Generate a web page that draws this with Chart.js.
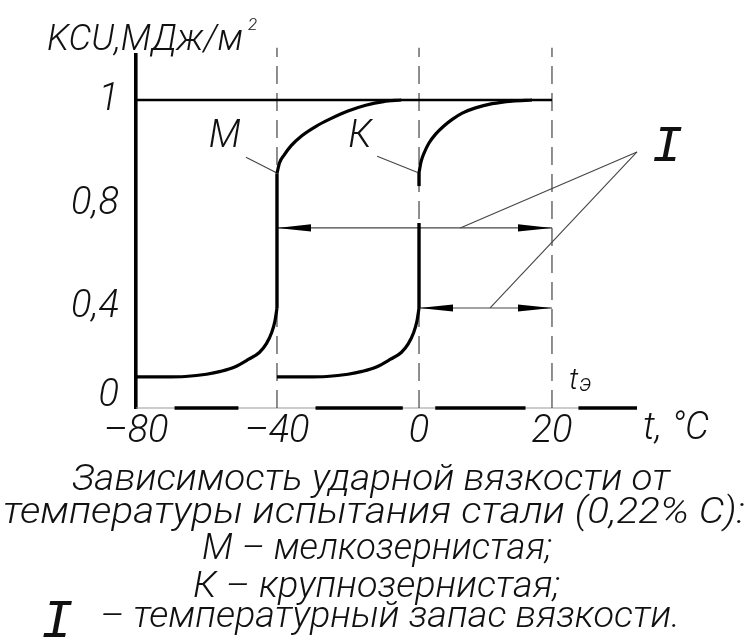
<!DOCTYPE html>
<html><head><meta charset="utf-8">
<script src="https://cdn.jsdelivr.net/npm/chart.js@4.4.1/dist/chart.umd.min.js"></script>
<style>html,body{margin:0;padding:0;background:#fff;}canvas{display:block;}</style>
</head><body>
<canvas id="c" width="750" height="640"></canvas>
<script>
// ---------- data ----------
const xTicks = [-80, -40, 0, 20];
const yTicks = [0, 0.4, 0.8, 1];

// M (fine grain) – lower shelf
const mLowT   = [-80, -72, -66, -60, -56, -52, -48, -45, -43, -41.5, -40.6, -40];
const mLowKCU = [0.09, 0.09, 0.092, 0.102, 0.115, 0.135, 0.17, 0.2, 0.24, 0.29, 0.34, 0.40];
// M jump
const mJumpT   = [-40, -40];
const mJumpKCU = [0.40, 0.86];
// M upper shelf
const mHighT   = [-40, -39.3, -38, -36, -33, -29, -25, -20, -15, -10, -5];
const mHighKCU = [0.86, 0.88, 0.895, 0.913, 0.932, 0.95, 0.964, 0.979, 0.99, 0.997, 1.0];

// K (coarse grain) – lower shelf
const kLowT   = [-40, -32, -26, -20, -16, -12, -8, -5, -3, -1.5, -0.6, 0];
const kLowKCU = [0.09, 0.09, 0.092, 0.102, 0.115, 0.135, 0.17, 0.2, 0.24, 0.29, 0.34, 0.40];
// K jump (broken)
const kJumpLowT   = [0, 0];
const kJumpLowKCU = [0.40, 0.73];
const kJumpHighT   = [0, 0];
const kJumpHighKCU = [0.836, 0.861];
// K upper shelf
const kHighT   = [0, 0.3, 0.8, 1.5, 2.5, 3.7, 5, 6.5, 8.5, 11, 14, 17];
const kHighKCU = [0.861, 0.882, 0.9, 0.918, 0.935, 0.95, 0.963, 0.975, 0.985, 0.993, 0.998, 1.0];

// level KCU = 1
const topT   = [-80, 20];
const topKCU = [1, 1];

// reference temperatures (dashed)
const dashTemps = [-40, 0, 20];
const dashKCU   = [-0.05, 1.10];

// dimension arrows (temperature reserve)
const arrow1T = [-40, 20]; const arrow1KCU = [0.711, 0.711];
const arrow2T = [0, 20];   const arrow2KCU = [0.40, 0.40];

// leader lines
const leaderI1T = [33, 6.2];  const leaderI1KCU = [0.901, 0.711];
const leaderI2T = [33, 10.7]; const leaderI2KCU = [0.901, 0.40];
const leaderMT = [-48.8, -40]; const leaderMKCU = [0.891, 0.861];
const leaderKT = [-11.8, 0];   const leaderKKCU = [0.893, 0.861];

// text annotations (anchored in data units)
const noteM = {text: 'М', t: -54.8, v: 0.928};
const noteK = {text: 'К', t: -16.6, v: 0.928};
const noteI = {text: 'I', t: 37.6, v: 0.91};
const noteTe = {t: 22.6, v: 0.035};

const yTitle = 'KCU,МДж/м';
const xTitle = 't, °C';
const caption = [
  'Зависимость ударной вязкости от',
  'температуры испытания стали (0,22% C):',
  'М – мелкозернистая;',
  'К – крупнозернистая;',
  '– температурный запас вязкости.'
];

// ---------- piecewise scale (drawing is not to scale) ----------
const BREAKS = {
  x: {values: [-80, -40, 0, 20, 33], fracs: [0, 0.2814, 0.5649, 0.8303, 1]},
  y: {values: [-0.05, 0, 0.4, 0.8, 1, 1.086], fracs: [0, 0.0312, 0.2833, 0.5751, 0.8725, 1]}
};
class PiecewiseScale extends Chart.LinearScale {
  static id = 'piecewise';
  static defaults = Chart.LinearScale.defaults;
  _frac(v) {
    const b = BREAKS[this.id].values, f = BREAKS[this.id].fracs;
    let i = 1;
    while (i < b.length - 1 && v > b[i]) i++;
    return f[i - 1] + (v - b[i - 1]) * (f[i] - f[i - 1]) / (b[i] - b[i - 1]);
  }
  getPixelForValue(v) {
    if (v === null || v === undefined || isNaN(v)) return NaN;
    return this.getPixelForDecimal(this._frac(v));
  }
  getValueForPixel(p) {
    const d = this.getDecimalForPixel(p);
    const b = BREAKS[this.id].values, f = BREAKS[this.id].fracs;
    let i = 1;
    while (i < f.length - 1 && d > f[i]) i++;
    return b[i - 1] + (d - f[i - 1]) * (b[i] - b[i - 1]) / (f[i] - f[i - 1]);
  }
}
Chart.register(PiecewiseScale);

// ---------- helpers ----------
const FAMILY = 'Roboto, "Open Sans", "DejaVu Sans", sans-serif';
const MONO = '"Liberation Mono", "DejaVu Sans Mono", monospace';
const pts = (ts, vs) => ts.map((t, i) => ({x: t, y: vs[i]}));
const fmtX = v => (v < 0 ? '–' + Math.abs(v) : String(v));
const fmtY = v => String(v).replace('.', ',');

const curve = (ts, vs) => ({data: pts(ts, vs), borderColor: '#000', borderWidth: 3.2,
  pointRadius: 0, cubicInterpolationMode: 'monotone', fill: false, clip: false});
const straight = (ts, vs, w) => ({data: pts(ts, vs), borderColor: '#000', borderWidth: w,
  pointRadius: 0, tension: 0, fill: false, clip: false});
const thin = (ts, vs, extra) => Object.assign({data: pts(ts, vs), borderColor: '#444', borderWidth: 1.1,
  pointRadius: 0, tension: 0, fill: false, clip: false}, extra || {});

const datasets = [
  curve(mLowT, mLowKCU),
  straight(mJumpT, mJumpKCU, 3.4),
  curve(mHighT, mHighKCU),
  curve(kLowT, kLowKCU),
  straight(kJumpLowT, kJumpLowKCU, 3.4),
  straight(kJumpHighT, kJumpHighKCU, 3.4),
  curve(kHighT, kHighKCU),
  straight(topT, topKCU, 2.6),
  thin(arrow1T, arrow1KCU, {arrow: true}),
  thin(arrow2T, arrow2KCU, {arrow: true}),
  thin(leaderI1T, leaderI1KCU),
  thin(leaderI2T, leaderI2KCU),
  thin(leaderMT, leaderMKCU),
  thin(leaderKT, leaderKKCU),
  ...dashTemps.map(t => thin([t, t], dashKCU, {borderDash: [18, 9], borderColor: '#333'}))
];

const tickFont = {family: FAMILY, size: 38, style: 'italic', weight: 300};
const fontStr = (size, w) => `italic ${w || 300} ${size}px ${FAMILY}`;

const sketch = {
  id: 'sketch',
  beforeDatasetsDraw(chart) {
    const {ctx, chartArea: a, scales: {x}} = chart;
    const y0 = a.bottom;
    ctx.save();
    ctx.strokeStyle = '#999'; ctx.lineWidth = 1;
    ctx.beginPath(); ctx.moveTo(a.left, y0); ctx.lineTo(a.right, y0); ctx.stroke();
    ctx.font = fontStr(tickFont.size);
    const gaps = x.ticks.map(t => {
      const px = x.getPixelForValue(t.value);
      const w = ctx.measureText(fmtX(t.value)).width;
      return [px - w / 2 - 6, px + w / 2 + 6];
    });
    const segs = []; let s = a.left;
    gaps.forEach(g => { if (g[0] > s) segs.push([s, g[0]]); s = Math.max(s, g[1]); });
    if (s < a.right) segs.push([s, a.right]);
    ctx.strokeStyle = '#000'; ctx.lineWidth = 3.4; ctx.lineCap = 'butt';
    segs.forEach(g => { ctx.beginPath(); ctx.moveTo(g[0], y0); ctx.lineTo(g[1], y0); ctx.stroke(); });
    ctx.restore();
  },
  afterDatasetsDraw(chart) {
    const {ctx, chartArea: a, scales: {x, y}} = chart;
    ctx.save();
    // arrowheads
    ctx.fillStyle = '#000';
    chart.data.datasets.forEach((ds, i) => {
      if (!ds.arrow) return;
      const el = chart.getDatasetMeta(i).data;
      const p0 = el[0], p1 = el[el.length - 1];
      [[p0, p1], [p1, p0]].forEach(([tip, other]) => {
        const dx = tip.x - other.x, dy = tip.y - other.y, L = Math.hypot(dx, dy);
        const ux = dx / L, uy = dy / L, len = 34, hw = 3.6;
        ctx.beginPath();
        ctx.moveTo(tip.x, tip.y);
        ctx.lineTo(tip.x - ux * len - uy * hw, tip.y - uy * len + ux * hw);
        ctx.lineTo(tip.x - ux * len + uy * hw, tip.y - uy * len - ux * hw);
        ctx.closePath(); ctx.fill();
      });
    });
    ctx.fillStyle = '#111';
    ctx.textBaseline = 'middle'; ctx.textAlign = 'center';
    // M, K
    ctx.font = fontStr(38);
    [noteM, noteK].forEach(n => ctx.fillText(n.text, x.getPixelForValue(n.t), y.getPixelForValue(n.v)));
    // I
    ctx.font = `italic 400 52px ${MONO}`;
    ctx.fillText(noteI.text, x.getPixelForValue(noteI.t), y.getPixelForValue(noteI.v));
    // t_э
    ctx.textAlign = 'left'; ctx.textBaseline = 'alphabetic';
    const tx = x.getPixelForValue(noteTe.t), ty = y.getPixelForValue(noteTe.v);
    ctx.font = fontStr(30);
    ctx.fillText('t', tx, ty);
    const tw = ctx.measureText('t').width;
    ctx.font = fontStr(24);
    ctx.fillText('э', tx + tw + 1, ty + 2);
    // x title
    ctx.font = fontStr(38);
    ctx.fillText(xTitle, a.right + 6, a.bottom + 31);
    // y title
    ctx.font = fontStr(36);
    ctx.fillText(yTitle, a.left - 89, a.top - 5);
    const yw = ctx.measureText(yTitle).width;
    ctx.font = fontStr(17);
    ctx.fillText('2', a.left - 89 + yw + 5, a.top - 25);
    ctx.restore();
  },
  afterDraw(chart) {
    const {ctx} = chart;
    ctx.save();
    ctx.fillStyle = '#111';
    ctx.textBaseline = 'alphabetic';
    const base = [490, 523, 559, 597, 627];
    const left = [72, 3, 202, 193, 100];
    const right = [670, 745, 552, 560, 680];
    ctx.font = fontStr(37);
    caption.forEach((line, i) => {
      const w = ctx.measureText(line).width;
      const sx = (right[i] - left[i]) / w;
      ctx.save();
      ctx.translate(left[i], base[i]);
      ctx.scale(sx, 1);
      ctx.textAlign = 'left';
      ctx.fillText(line, 0, 0);
      ctx.restore();
    });
    ctx.font = `italic 400 54px ${MONO}`;
    ctx.textAlign = 'center';
    ctx.fillText('I', 57, 637);
    ctx.restore();
  }
};

new Chart(document.getElementById('c'), {
  type: 'line',
  data: {datasets},
  plugins: [sketch],
  options: {
    responsive: false,
    animation: false,
    events: [],
    layout: {padding: {left: 0, right: 113, top: 55, bottom: 0}},
    plugins: {legend: {display: false}, tooltip: {enabled: false}},
    scales: {
      x: {
        type: 'piecewise', min: -80, max: 33,
        grid: {display: false, drawTicks: false},
        border: {display: false},
        ticks: {autoSkip: false, maxRotation: 0, padding: 2, color: '#111', font: tickFont, callback: v => fmtX(v)},
        afterBuildTicks: s => { s.ticks = xTicks.map(v => ({value: v})); },
        afterFit: s => { s.height = 232; }
      },
      y: {
        type: 'piecewise', min: -0.05, max: 1.086,
        grid: {display: false, drawTicks: false},
        border: {display: true, color: '#000', width: 3.6},
        ticks: {padding: 17, color: '#111', font: tickFont, callback: v => fmtY(v)},
        afterBuildTicks: s => { s.ticks = yTicks.map(v => ({value: v})); },
        afterFit: s => { s.width = 136; }
      }
    }
  }
});
</script>
</body></html>
